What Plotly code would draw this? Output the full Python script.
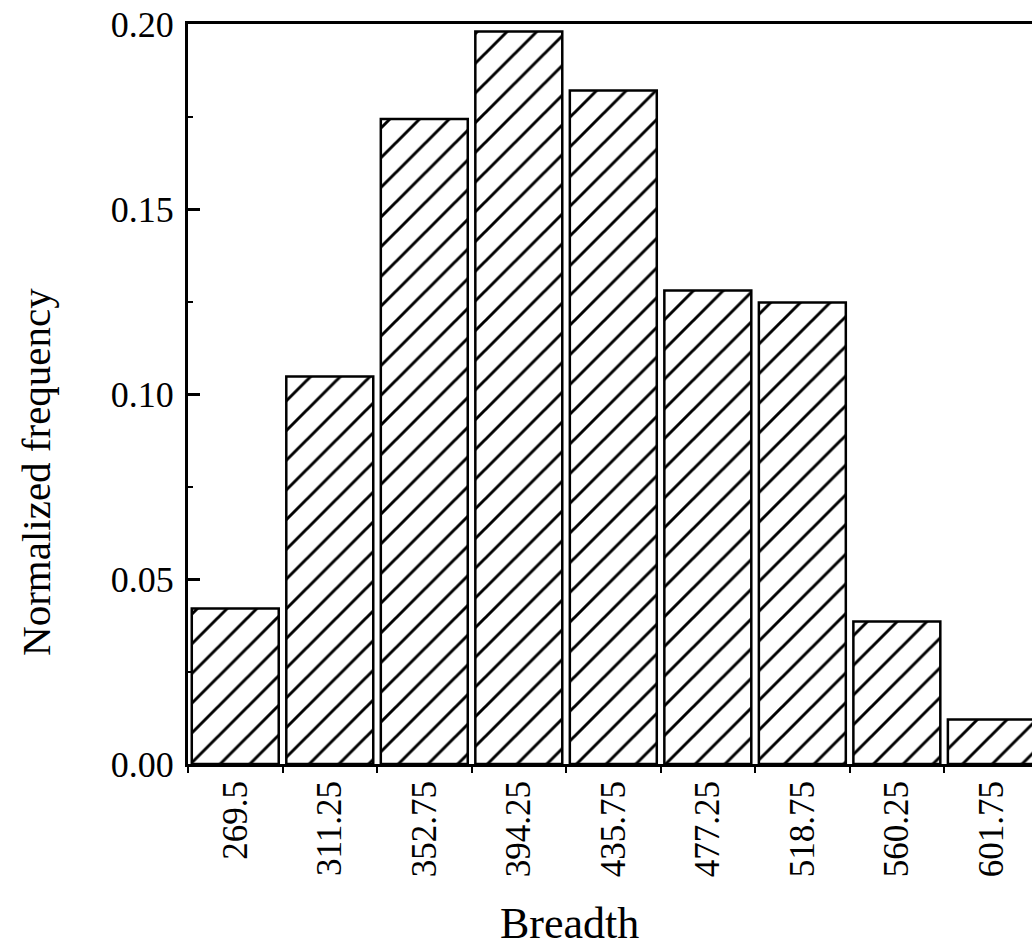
import plotly.graph_objects as go

categories = ["269.5", "311.25", "352.75", "394.25", "435.75", "477.25", "518.75", "560.25", "601.75"]
frequency = [0.042, 0.1047, 0.1743, 0.198, 0.182, 0.128, 0.1247, 0.0385, 0.012]
y_ticks = [0.00, 0.05, 0.10, 0.15, 0.20]

FONT = "Liberation Serif, Times New Roman, serif"

fig = go.Figure()
fig.add_trace(go.Bar(
    x=categories,
    y=frequency,
    marker=dict(
        color="white",
        line=dict(color="black", width=2.5),
        pattern=dict(shape="/", fgcolor="black", bgcolor="white", fgopacity=1,
                     size=21, solidity=0.14),
    ),
    showlegend=False,
))

fig.update_layout(
    width=1032,
    height=950,
    margin=dict(l=188, r=0, t=24, b=186),
    paper_bgcolor="white",
    plot_bgcolor="white",
    bargap=0.08,
    font=dict(family=FONT, color="black"),
)

fig.update_xaxes(
    type="category",
    range=[-0.5, 8.43],
    showline=True,
    linecolor="black",
    linewidth=3,
    mirror=True,
    ticks="outside",
    tickson="boundaries",
    ticklen=6,
    tickwidth=2,
    tickcolor="black",
    tickangle=-90,
    tickfont=dict(family=FONT, size=35, color="black"),
    showgrid=False,
    zeroline=False,
)

fig.update_yaxes(
    range=[0, 0.2],
    tickvals=y_ticks,
    tickformat=".2f",
    showline=True,
    linecolor="black",
    linewidth=3,
    mirror=False,
    ticks="inside",
    ticklen=12,
    tickwidth=2.5,
    tickcolor="black",
    tickfont=dict(family=FONT, size=36, color="black"),
    ticklabelstandoff=4,
    minor=dict(dtick=0.025, ticks="inside", ticklen=5, tickwidth=2, tickcolor="black", showgrid=False),
    showgrid=False,
    zeroline=False,
)

fig.add_annotation(
    text="Normalized frequency",
    xref="paper", yref="paper",
    x=-0.181, y=0.395,
    textangle=-90,
    showarrow=False,
    xanchor="center", yanchor="middle",
    font=dict(family=FONT, size=41, color="black"),
)
fig.add_annotation(
    text="Breadth",
    xref="paper", yref="paper",
    x=0.4526, y=-0.216,
    showarrow=False,
    xanchor="center", yanchor="middle",
    font=dict(family=FONT, size=44, color="black"),
)

fig.write_html("out.html")
